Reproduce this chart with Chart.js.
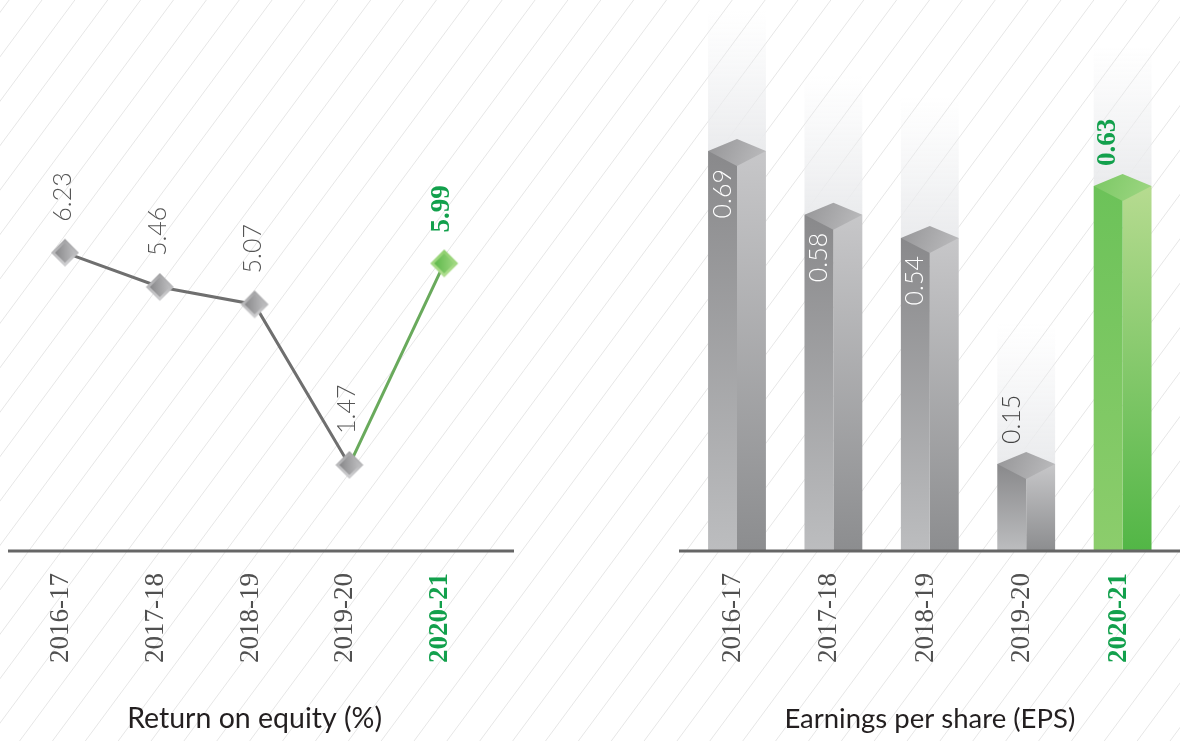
<!DOCTYPE html>
<html><head><meta charset="utf-8">
<script src="https://cdn.jsdelivr.net/npm/chart.js@4.4.1/dist/chart.umd.min.js"></script>
<style>
html,body{margin:0;padding:0;width:1180px;height:741px;overflow:hidden;background:#fff;}
#bg{position:absolute;left:0;top:0;}
.box{position:absolute;top:0;width:520px;height:741px;}
</style></head><body>
<canvas id="bg" width="1180" height="741"></canvas>
<div class="box" style="left:0"><canvas id="roe" width="520" height="741"></canvas></div>
<div class="box" style="left:660px"><canvas id="eps" width="520" height="741"></canvas></div>
<script>
// ---- data ----
const years = ['2016-17','2017-18','2018-19','2019-20','2020-21'];
const roeValues = [6.23, 5.46, 5.07, 1.47, 5.99];
const epsValues = [0.69, 0.58, 0.54, 0.15, 0.63];
const highlightYear = '2020-21';
const roeTitle = 'Return on equity (%)';
const epsTitle = 'Earnings per share (EPS)';

// ---- background hatching ----
(function () {
  const c = document.getElementById('bg').getContext('2d');
  c.strokeStyle = '#e3e3e3'; c.lineWidth = 0.9;
  const step = 32.87, slope = 0.74, H = 741;
  for (let x0 = 9.13 - step * 2; x0 < 1180 + slope * H + step; x0 += step) {
    c.beginPath(); c.moveTo(x0, 0); c.lineTo(x0 - slope * H, H); c.stroke();
  }
})();

// ---- styles ----
const GREEN_TXT = '#12a04c';
const TICK_GRAY = '#505050';
const LABEL_GRAY = '#555555';
const isHi = i => years[i] === highlightYear;

function diamond(rimA, rimB, innerA, innerB) {
  const c = document.createElement('canvas'); c.width = 30; c.height = 30;
  const g = c.getContext('2d');
  g.beginPath(); g.moveTo(15,1); g.lineTo(29,15); g.lineTo(15,29); g.lineTo(1,15); g.closePath();
  const rg = g.createLinearGradient(0,1,0,29); rg.addColorStop(0, rimA); rg.addColorStop(1, rimB);
  g.fillStyle = rg; g.fill();
  g.beginPath(); g.moveTo(15,5); g.lineTo(25,15); g.lineTo(15,25); g.lineTo(5,15); g.closePath();
  const gr = g.createLinearGradient(5,15,25,15); gr.addColorStop(0, innerA); gr.addColorStop(1, innerB);
  g.fillStyle = gr; g.fill();
  return c;
}
const grayDiamond = diamond('#a2a2a4', '#d2d2d4', '#88888a', '#bdbdbf');
const greenDiamond = diamond('#8fd06f', '#b3df93', '#5eb84b', '#9ad67d');

function xScale(titleText, titleSize) {
  return {
    type: 'category', offset: true,
    grid: {display: false, drawTicks: false}, border: {display: false},
    ticks: {
      autoSkip: false, minRotation: 90, maxRotation: 90, padding: 22, labelOffset: -4,
      color: c => isHi(c.index) ? GREEN_TXT : TICK_GRAY,
      font: c => ({family: '"Liberation Serif", serif', size: 27, weight: isHi(c.index) ? 'bold' : 'normal'})
    },
    title: {display: true, text: titleText, color: '#231f20',
      font: {family: 'Lato, sans-serif', size: titleSize}, padding: {top: 0, bottom: 5}},
    afterFit: s => { s.height = 190; }
  };
}

function baselinePlugin(extLeft, extRight) {
  return {
    id: 'baseline',
    afterDatasetsDraw(chart) {
      const {ctx, chartArea} = chart;
      const y = chart.scales.x.top;
      ctx.save();
      ctx.strokeStyle = '#666666'; ctx.lineWidth = 3;
      ctx.beginPath();
      ctx.moveTo(chartArea.left - extLeft, y);
      ctx.lineTo(extRight === null ? chart.width : chartArea.right + extRight, y);
      ctx.stroke();
      ctx.restore();
    }
  };
}

// ---- Return on equity (line) ----
const roeLabels = {
  id: 'roeLabels',
  afterDatasetsDraw(chart) {
    const {ctx} = chart;
    const pts = chart.getDatasetMeta(0).data;
    pts.forEach((p, i) => {
      const hi = isHi(i);
      ctx.save();
      ctx.translate(p.x - 2, p.y - 31);
      ctx.rotate(-Math.PI / 2);
      ctx.textAlign = 'left'; ctx.textBaseline = 'middle';
      ctx.fillStyle = hi ? GREEN_TXT : LABEL_GRAY;
      ctx.font = hi ? 'bold 27px "Liberation Serif", serif' : '300 25px Lato, "Open Sans", sans-serif';
      ctx.fillText(roeValues[i].toFixed(2), 0, 0);
      ctx.restore();
    });
  }
};

new Chart(document.getElementById('roe'), {
  type: 'line',
  data: {
    labels: years,
    datasets: [{
      data: roeValues,
      borderColor: '#6f6f6f', borderWidth: 3,
      segment: {borderColor: c => isHi(c.p1DataIndex) ? '#69aa5c' : undefined},
      pointStyle: years.map((y, i) => isHi(i) ? greenDiamond : grayDiamond),
      pointRadius: 14, tension: 0, fill: false
    }]
  },
  options: {
    responsive: false, animation: false, events: [],
    layout: {padding: {left: 17.6, right: 28.4, top: 40, bottom: 0}},
    plugins: {legend: {display: false}, tooltip: {enabled: false}},
    scales: {
      x: xScale(roeTitle, 28.5),
      y: {display: false, min: -0.46, max: 11}
    }
  },
  plugins: [roeLabels, baselinePlugin(9.6, 22.4)]
});

// ---- Earnings per share (3D bars) ----
const CAP_RISE = 12, CAP_DROP = 15;

function faceColor(side) {
  return c => {
    const chart = c.chart;
    const i = c.dataIndex;
    const hi = isHi(i);
    const fallback = hi ? '#6cc25a' : '#9a9a9c';
    if (!chart.chartArea || !chart.scales.y) return fallback;
    const yTop = chart.scales.y.getPixelForValue(epsValues[i]);
    const base = chart.scales.y.getPixelForValue(0);
    const g = chart.ctx.createLinearGradient(0, yTop, 0, base);
    if (hi) {
      if (side === 'left') { g.addColorStop(0, '#6cc259'); g.addColorStop(1, '#8ccd6c'); }
      else { g.addColorStop(0, '#b6db90'); g.addColorStop(1, '#52b646'); }
    } else {
      if (side === 'left') { g.addColorStop(0, '#89898b'); g.addColorStop(1, '#bcbdbf'); }
      else { g.addColorStop(0, '#c7c7c9'); g.addColorStop(1, '#8c8d8f'); }
    }
    return g;
  };
}

function geom(chart, i) {
  const a = chart.getDatasetMeta(0).data[i];
  const b = chart.getDatasetMeta(1).data[i];
  return {L: a.x - a.width / 2, M: a.x + a.width / 2, R: b.x + b.width / 2, yTop: a.y, base: a.base, lc: a.x};
}

const epsDecor = {
  id: 'epsDecor',
  beforeDatasetsDraw(chart) {
    const {ctx} = chart;
    epsValues.forEach((v, i) => {
      const g = geom(chart, i);
      const top = g.yTop - 140;
      const gr = ctx.createLinearGradient(0, top, 0, g.yTop);
      gr.addColorStop(0, 'rgba(238,239,241,0)');
      gr.addColorStop(1, 'rgba(234,235,237,1)');
      ctx.save();
      ctx.fillStyle = gr;
      ctx.fillRect(g.L, top, g.R - g.L, g.yTop - top);
      ctx.restore();
    });
  },
  afterDatasetsDraw(chart) {
    const {ctx} = chart;
    epsValues.forEach((v, i) => {
      const g = geom(chart, i);
      const hi = isHi(i);
      // top cap
      ctx.save();
      ctx.beginPath();
      ctx.moveTo(g.L, g.yTop);
      ctx.lineTo(g.M, g.yTop - CAP_RISE);
      ctx.lineTo(g.R, g.yTop);
      ctx.lineTo(g.M, g.yTop + CAP_DROP);
      ctx.closePath();
      const cg = ctx.createLinearGradient(g.L, g.yTop - CAP_RISE, g.R, g.yTop + CAP_DROP);
      if (hi) { cg.addColorStop(0, '#7ac864'); cg.addColorStop(1, '#9fd683'); }
      else { cg.addColorStop(0, '#959597'); cg.addColorStop(1, '#bdbdbf'); }
      ctx.fillStyle = cg; ctx.fill();
      ctx.restore();
      // value label
      const txt = v.toFixed(2);
      ctx.save();
      ctx.font = hi ? 'bold 27px "Liberation Serif", serif' : '300 25px Lato, "Open Sans", sans-serif';
      const w = ctx.measureText(txt).width;
      const inside = !hi && (g.base - (g.yTop + 18)) > w + 30;
      ctx.textBaseline = 'middle';
      if (inside) {
        ctx.translate(g.lc, g.yTop + 18);
        ctx.rotate(-Math.PI / 2);
        ctx.textAlign = 'right';
        ctx.fillStyle = '#ffffff';
      } else {
        ctx.translate(g.lc, g.yTop - 20);
        ctx.rotate(-Math.PI / 2);
        ctx.textAlign = 'left';
        ctx.fillStyle = hi ? GREEN_TXT : '#444444';
      }
      ctx.fillText(txt, 0, 0);
      ctx.restore();
    });
  }
};

new Chart(document.getElementById('eps'), {
  type: 'bar',
  data: {
    labels: years,
    datasets: [
      {data: epsValues, backgroundColor: faceColor('left'), borderWidth: 0},
      {data: epsValues, backgroundColor: faceColor('right'), borderWidth: 0}
    ]
  },
  options: {
    responsive: false, animation: false, events: [],
    layout: {padding: {left: 28.8, right: 9.2, top: 41, bottom: 0}},
    datasets: {bar: {categoryPercentage: 0.6, barPercentage: 1.0}},
    plugins: {legend: {display: false}, tooltip: {enabled: false}},
    scales: {
      x: xScale(epsTitle, 27.5),
      y: {display: false, min: 0, max: 0.88}
    }
  },
  plugins: [epsDecor, baselinePlugin(9.8, null)]
});
</script>
</body></html>
